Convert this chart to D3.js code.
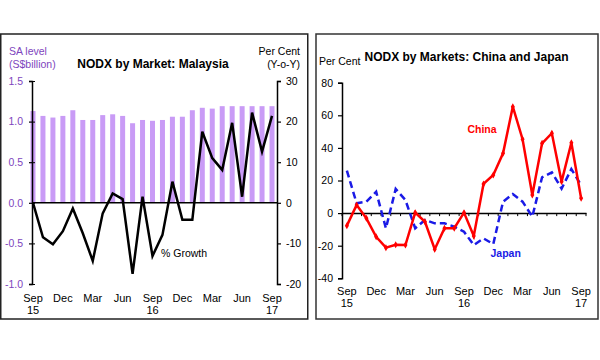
<!DOCTYPE html>
<html><head><meta charset="utf-8">
<script src="https://cdn.jsdelivr.net/npm/d3@7"></script>
<style>body{margin:0;background:#fff}svg{display:block;font-family:"Liberation Sans",Arial,sans-serif}</style>
</head><body><svg id="c" width="600" height="360"></svg>
<script>
// ---- Data ----
const months = ["Sep","Oct","Nov","Dec","Jan","Feb","Mar","Apr","May","Jun","Jul","Aug",
                "Sep","Oct","Nov","Dec","Jan","Feb","Mar","Apr","May","Jun","Jul","Aug","Sep"];
const tickIdx = [0,3,6,9,12,15,18,21,24];
const yearLabels = {0:"15",12:"16",24:"17"};
// Malaysia: SA level (S$ billion) and % growth y-o-y
const myLevel = [1.13,1.07,1.05,1.07,1.14,1.02,1.02,1.08,1.09,1.07,0.98,1.02,1.01,1.02,1.06,1.06,1.14,1.17,1.16,1.19,1.19,1.19,1.19,1.19,1.19];
const myGrowth = [0,-8.5,-10.2,-7,-1.4,-7.5,-14.3,-2.6,2.3,0.9,-17.5,1.5,-13.1,-7.9,5.2,-4.2,-4.2,17.5,11,8.1,19.7,1.5,22.2,12.6,21.4];
// China & Japan: % growth y-o-y
const china = [-7.7,5,-3.2,-14.5,-21.2,-19.4,-19.6,0.3,-5.3,-22.2,-9.3,-9.3,0.3,-14,17.9,23.4,36.7,65.3,45.3,11.1,42.8,49,19.3,43.2,9.1];
const japan = [26,6,7,13.1,-9.3,14.8,8,-9.3,-4.2,-6.3,-6.3,-8.3,-11.4,-19.6,-15.5,-19,7,11.7,7,-2.2,22,25,15,27,17.2];
const leftTicks = [-1,-0.5,0,0.5,1,1.5];
const rightTicks = [-20,-10,0,10,20,30];
const cjTicks = [-40,-20,0,20,40,60,80];

const svg = d3.select("#c");
const purple = "#7d45bd";
const font = "Liberation Sans, Arial, sans-serif";

// panel borders
svg.append("rect").attr("x",0.75).attr("y",34).attr("width",307).attr("height",285)
  .attr("fill","none").attr("stroke","#222").attr("stroke-width",1.5);
svg.append("rect").attr("x",316).attr("y",34).attr("width",282).attr("height",285)
  .attr("fill","none").attr("stroke","#333").attr("stroke-width",1.5);

// ===== Left: Malaysia =====
const xL = d3.scalePoint().domain(d3.range(25)).range([33,272]);
const yL = d3.scaleLinear().domain([-1,1.5]).range([284,81]);
const yR = d3.scaleLinear().domain([-20,30]).range([284,81]);
const gL = svg.append("g");

gL.selectAll("rect.bar").data(myLevel).join("rect").attr("class","bar")
  .attr("x",(d,i)=>xL(i)-2.5).attr("width",5)
  .attr("y",d=>yL(Math.max(0,d))).attr("height",d=>Math.abs(yL(d)-yL(0)))
  .attr("fill","#c99bf6");

// zero line
gL.append("line").attr("x1",32).attr("x2",277).attr("y1",yL(0)).attr("y2",yL(0))
  .attr("stroke","#000").attr("stroke-width",1.5);

// left axis (cross ticks)
const axL = gL.append("g").attr("transform","translate(32,0)")
  .call(d3.axisLeft(yL).tickValues(leftTicks).tickSize(3).tickPadding(6).tickFormat(d=>d.toFixed(1)));
gL.append("g").attr("transform","translate(32,0)")
  .call(d3.axisRight(yL).tickValues(leftTicks).tickSize(3).tickFormat(""))
  .call(g=>g.select(".domain").remove());
axL.selectAll("text").attr("fill",purple).attr("font-size",10.5).attr("font-family",font);

// right axis
const axR = gL.append("g").attr("transform","translate(277,0)")
  .call(d3.axisRight(yR).tickValues(rightTicks).tickSize(4).tickPadding(5).tickFormat(d=>String(d)));
axR.selectAll("text").attr("fill","#000").attr("font-size",10.5).attr("font-family",font);
[axL,axR].forEach(a=>{a.select(".domain").attr("stroke","#000").attr("stroke-width",1.5);
  a.selectAll(".tick line").attr("stroke","#000").attr("stroke-width",1.2);});

// growth line
gL.append("path").datum(myGrowth)
  .attr("d",d3.line().x((d,i)=>xL(i)).y(d=>yR(d)))
  .attr("fill","none").attr("stroke","#000").attr("stroke-width",2.5).attr("stroke-linejoin","miter");

// x labels
gL.selectAll("text.xl").data(tickIdx).join("text").attr("class","xl")
  .attr("x",i=>xL(i)).attr("y",302).attr("text-anchor","middle")
  .attr("font-size",11).text(i=>months[i]);
gL.selectAll("text.yl").data(tickIdx.filter(i=>yearLabels[i])).join("text").attr("class","yl")
  .attr("x",i=>xL(i)).attr("y",314).attr("text-anchor","middle")
  .attr("font-size",11).text(i=>yearLabels[i]);

// titles
gL.append("text").attr("x",153).attr("y",67.5).attr("text-anchor","middle")
  .attr("font-size",12).attr("font-weight","bold").text("NODX by Market: Malaysia");
gL.append("text").attr("x",9).attr("y",55).attr("font-size",10.5).attr("fill",purple).text("SA level");
gL.append("text").attr("x",9).attr("y",68).attr("font-size",10.5).attr("fill",purple).text("(S$billion)");
gL.append("text").attr("x",300).attr("y",55).attr("text-anchor","end").attr("font-size",10.5).text("Per Cent");
gL.append("text").attr("x",300).attr("y",68).attr("text-anchor","end").attr("font-size",10.5).text("(Y-o-Y)");
gL.append("text").attr("x",161).attr("y",257).attr("font-size",10.5).text("% Growth");

// ===== Right: China and Japan =====
const xC = d3.scaleBand().domain(d3.range(25)).range([342,586]);
const cx = i=>xC(i)+xC.bandwidth()/2;
const yC = d3.scaleLinear().domain([-40,80]).range([278.3,82.7]);
const gR = svg.append("g");

const axC = gR.append("g").attr("transform","translate(342,0)")
  .call(d3.axisLeft(yC).tickValues(cjTicks).tickSize(4).tickPadding(5).tickFormat(d=>String(d)));
axC.select(".domain").attr("stroke","#000").attr("stroke-width",1.5);
axC.selectAll(".tick line").attr("stroke","#000").attr("stroke-width",1.2);
axC.selectAll("text").attr("fill","#000").attr("font-size",10.5).attr("font-family",font);

// zero category axis with ticks
const axX = gR.append("g").attr("transform",`translate(0,${yC(0)})`)
  .call(d3.axisBottom(xC).tickValues([]).tickSizeOuter(0));
axX.select(".domain").attr("stroke","#000").attr("stroke-width",1.5);
gR.selectAll("line.ct").data(d3.range(26)).join("line").attr("class","ct")
  .attr("x1",i=>342+i*xC.step()).attr("x2",i=>342+i*xC.step())
  .attr("y1",yC(0)).attr("y2",yC(0)+3).attr("stroke","#000").attr("stroke-width",1);

// lines
gR.append("path").datum(japan)
  .attr("d",d3.line().x((d,i)=>cx(i)).y(d=>yC(d)))
  .attr("fill","none").attr("stroke","#1a1ae6").attr("stroke-width",2.5).attr("stroke-dasharray","7,4");
gR.append("path").datum(china)
  .attr("d",d3.line().x((d,i)=>cx(i)).y(d=>yC(d)))
  .attr("fill","none").attr("stroke","#ff0000").attr("stroke-width",2.5);
gR.selectAll("path.mk").data(china).join("path").attr("class","mk")
  .attr("transform",(d,i)=>`translate(${cx(i)},${yC(d)})`)
  .attr("d",d3.symbol(d3.symbolDiamond,14)).attr("fill","#ff0000");

// x labels
gR.selectAll("text.xl").data(tickIdx).join("text").attr("class","xl")
  .attr("x",i=>cx(i)).attr("y",295).attr("text-anchor","middle")
  .attr("font-size",11).text(i=>months[i]);
gR.selectAll("text.yl").data(tickIdx.filter(i=>yearLabels[i])).join("text").attr("class","yl")
  .attr("x",i=>cx(i)).attr("y",307).attr("text-anchor","middle")
  .attr("font-size",11).text(i=>yearLabels[i]);

gR.append("text").attr("x",466.5).attr("y",61).attr("text-anchor","middle")
  .attr("font-size",12).attr("font-weight","bold").text("NODX by Markets: China and Japan");
gR.append("text").attr("x",319).attr("y",65).attr("font-size",10.5).text("Per Cent");
gR.append("text").attr("x",482).attr("y",133).attr("text-anchor","middle")
  .attr("font-size",10.5).attr("font-weight","bold").attr("fill","#ff0000").text("China");
gR.append("text").attr("x",505.7).attr("y",257).attr("text-anchor","middle")
  .attr("font-size",10.5).attr("font-weight","bold").attr("fill","#1a1ae6").text("Japan");
</script></body></html>
